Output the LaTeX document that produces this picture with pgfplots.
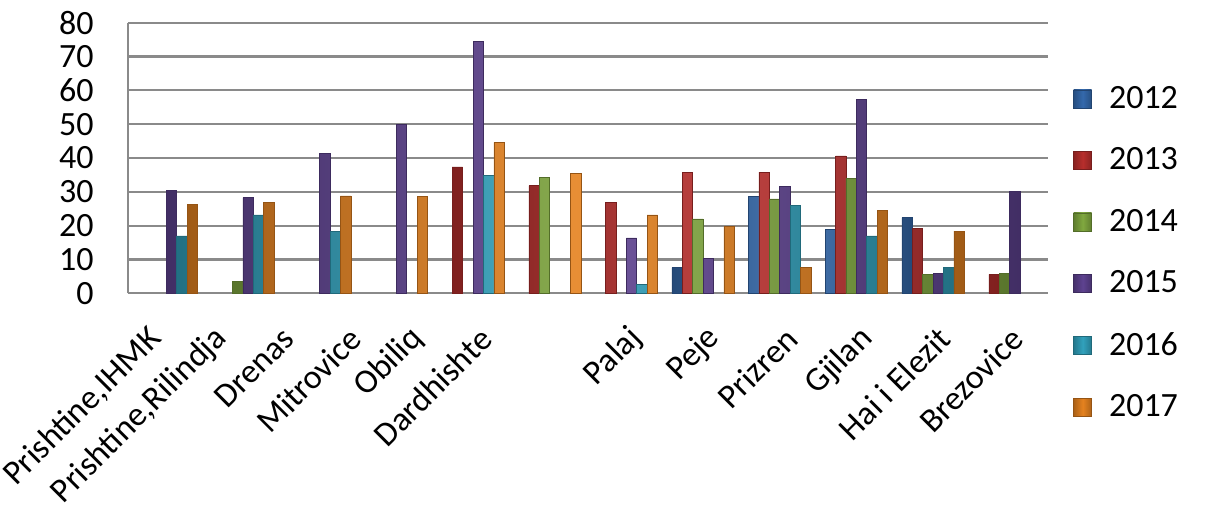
\documentclass[border=0pt]{standalone}
\usepackage{fontspec}
\setmainfont{Carlito}
\usepackage{pgfplots}
\pgfplotsset{compat=1.18}
\definecolor{c12}{HTML}{3469AC}
\definecolor{c13}{HTML}{B72E2C}
\definecolor{c14}{HTML}{80A83F}
\definecolor{c15}{HTML}{5E4290}
\definecolor{c16}{HTML}{31A1BC}
\definecolor{c17}{HTML}{E5821F}
\definecolor{gridgray}{HTML}{8A8A8A}
\pgfplotsset{
  mybar/.style={draw=#1!65!black, line width=0.3pt, left color=#1!70!black, right color=#1!70!black, middle color=#1!90!white,
    legend image code/.code={\draw[draw=#1!65!black, left color=#1!75!black, right color=#1!75!black, middle color=#1] (0pt,-4.5pt) rectangle (9pt,4.5pt);}},
}
\begin{document}
\begin{tikzpicture}
\useasboundingbox (-64pt,-108.35pt) rectangle (541.5pt,146.65pt);
\begin{axis}[
  at={(0pt,0pt)}, anchor=south west,
  scale only axis, width=460pt, height=135.3pt,
  ybar=0pt, bar width=5.2pt,
  xmin=-0.5, xmax=11.5, ymin=0, ymax=80,
  ytick={0,10,...,80},
  xtick={-0.135,0.726,1.600,2.474,3.283,4.170,6.139,7.156,8.161,9.152,10.157,11.109},
  xticklabels={{Prishtine,IHMK},{Prishtine,Rilindja},Drenas,Mitrovice,Obiliq,Dardhishte,Palaj,Peje,Prizren,Gjilan,Hai i Elezit,Brezovice},
  major tick length=0pt,
  axis x line*=bottom, axis y line*=left,
  axis line style={gridgray, line width=1.1pt, -},
  ymajorgrids, grid style={gridgray, line width=1.1pt},
  /pgf/number format/assume math mode=true,
  tick label style={font=\fontsize{17}{20}\selectfont},
  yticklabel style={inner sep=0pt, xshift=-17pt},
  xticklabel style={yshift=-20pt, rotate=45, anchor=east, inner sep=0pt},
  legend style={draw=none, fill=none, at={(1.0272,0.149)}, anchor=west, inner sep=0pt,
    row sep=18.2pt, column sep=8.5pt, font=\fontsize{17}{20}\selectfont,
    nodes={inner sep=0pt}},
  legend cell align=left,
  clip=false,
]
\addplot[mybar=c12] coordinates {(7,7.6) (8,28.6) (9,19.0) (10,22.4)};
\addplot[mybar=c13] coordinates {(4,37.4) (5,31.8) (6,26.8) (7,35.8) (8,35.8) (9,40.6) (10,19.2) (11,5.6)};
\addplot[mybar=c14] coordinates {(1,3.6) (5,34.2) (7,22.0) (8,27.9) (9,34.0) (10,5.6) (11,5.9)};
\addplot[mybar=c15] coordinates {(0,30.5) (1,28.3) (2,41.4) (3,50.0) (4,74.4) (6,16.4) (7,10.3) (8,31.5) (9,57.3) (10,5.9) (11,30.2)};
\addplot[mybar=c16] coordinates {(0,17.0) (1,23.2) (2,18.4) (4,34.8) (6,2.7) (8,25.9) (9,17.0) (10,7.6)};
\addplot[mybar=c17] coordinates {(0,26.3) (1,26.8) (2,28.8) (3,28.6) (4,44.6) (5,35.5) (6,23.2) (7,19.7) (8,7.6) (9,24.4) (10,18.4)};
\legend{2012,2013,2014,2015,2016,2017}
\end{axis}
\end{tikzpicture}
\end{document}
